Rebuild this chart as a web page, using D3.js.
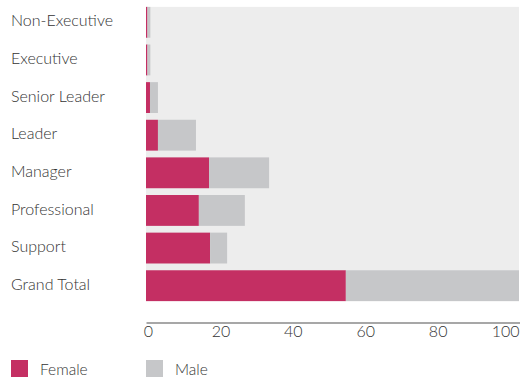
<!DOCTYPE html>
<html>
<head>
<meta charset="utf-8">
<script src="https://cdn.jsdelivr.net/npm/d3@7"></script>
<style>
  body { margin: 0; background: #fff; }
  text { font-family: Lato, "Open Sans", sans-serif; font-weight: 300; fill: #333; }
</style>
</head>
<body>
<script>
// data
const roles = ['Non-Executive', 'Executive', 'Senior Leader', 'Leader',
               'Manager', 'Professional', 'Support', 'Grand Total'];
const female = [0.4, 0.4, 1.1, 3.3, 17.4, 14.6, 17.7, 55.2];
const male   = [0.8, 0.8, 2.2, 10.5, 16.6, 12.7, 4.7, 48];
const xTicks = [0, 20, 40, 60, 80, 100];
const seriesNames = ['Female', 'Male'];
const colours = ['#c42f63', '#c6c7c9'];

const width = 520, height = 378;

const svg = d3.select('body').append('svg')
  .attr('width', width)
  .attr('height', height);

// x scale: the plot runs off the right edge a little past 100
const x = d3.scaleLinear().domain([0, 103.3]).range([146, 520]);
const y = d3.scaleBand().domain(roles).range([3.5, 304.5])
  .paddingInner(0.18).paddingOuter(0.09);

// grey backdrop
svg.append('rect')
  .attr('x', x(0))
  .attr('y', y(roles[0]))
  .attr('width', 519 - x(0))
  .attr('height', y(roles[roles.length - 1]) + y.bandwidth() - y(roles[0]))
  .attr('fill', '#ededed');

const rows = roles.map((r, i) => ({role: r, f: female[i], m: male[i]}));

// female bars
svg.append('g').selectAll('rect')
  .data(rows)
  .join('rect')
  .attr('x', x(0))
  .attr('y', d => y(d.role))
  .attr('width', d => x(d.f) - x(0))
  .attr('height', y.bandwidth())
  .attr('fill', colours[0]);

// male bars stacked on top
svg.append('g').selectAll('rect')
  .data(rows)
  .join('rect')
  .attr('x', d => x(d.f))
  .attr('y', d => y(d.role))
  .attr('width', d => Math.min(x(d.f + d.m), 519) - x(d.f))
  .attr('height', y.bandwidth())
  .attr('fill', colours[1]);

// category labels
svg.append('g').selectAll('text')
  .data(roles)
  .join('text')
  .attr('x', 11)
  .attr('y', d => y(d) + y.bandwidth() / 2)
  .attr('dy', '0.26em')
  .attr('font-size', 16)
  .text(d => d);

// X axis
const xAxis = d3.axisBottom(x).tickValues(xTicks).tickSize(0).tickPadding(3);
const gx = svg.append('g')
  .attr('transform', 'translate(0,322.5)')
  .call(xAxis);
gx.select('.domain').attr('stroke', '#8a8a8a').attr('stroke-width', 1.7);
gx.selectAll('text')
  .attr('font-size', 16)
  .attr('font-family', 'Lato, "Open Sans", sans-serif')
  .attr('fill', '#333')
  .attr('dx', 2);
// last label sits against the right edge
gx.selectAll('.tick text')
  .filter(d => d === xTicks[xTicks.length - 1])
  .attr('text-anchor', 'end')
  .attr('dx', 519 - x(xTicks[xTicks.length - 1]));

// legend
const legendX = [11, 146];
const legend = svg.append('g').selectAll('g')
  .data(seriesNames)
  .join('g')
  .attr('transform', (d, i) => `translate(${legendX[i]},360)`);
legend.append('rect')
  .attr('width', 17).attr('height', 17)
  .attr('fill', (d, i) => colours[i]);
legend.append('text')
  .attr('x', 29).attr('y', 15)
  .attr('font-size', 15.5)
  .text(d => d);
</script>
</body>
</html>
